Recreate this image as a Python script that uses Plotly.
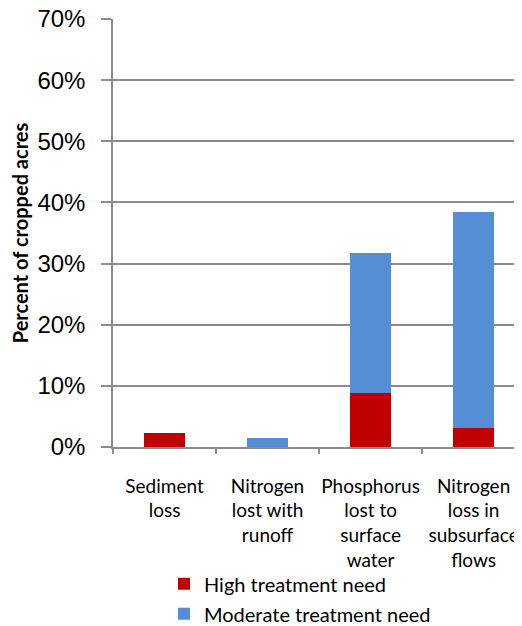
import plotly.graph_objects as go

categories = ["Sediment<br>loss", "Nitrogen<br>lost with<br>runoff",
              "Phosphorus<br>lost to<br>surface<br>water",
              "Nitrogen<br>loss in<br>subsurface<br>flows"]
high_need = [0.023, 0.0, 0.088, 0.031]
moderate_need = [0.0, 0.015, 0.229, 0.353]
y_ticks = [0, 0.1, 0.2, 0.3, 0.4, 0.5, 0.6, 0.7]

RED = "#C00000"
BLUE = "#558ED5"
GRID = "#8C8C8C"

# the page body adds an 8px margin, so the figure is 8px smaller each way
W, H = 514, 618
L, T, B = 105, 11, 179
PW = W - L
PH = H - T - B

fig = go.Figure()
fig.add_trace(go.Bar(x=categories, y=high_need, name="High treatment need",
                     marker=dict(color=RED, line=dict(width=0)), width=0.4,
                     legendgroup="a"))
fig.add_trace(go.Bar(x=categories, y=moderate_need, name="Moderate treatment need",
                     marker=dict(color=BLUE, line=dict(width=0)), width=0.4,
                     legendgroup="b"))

fig.update_layout(
    barmode="stack",
    width=W, height=H,
    margin=dict(l=L, r=0, t=T, b=B, pad=0),
    paper_bgcolor="white", plot_bgcolor="white",
    font=dict(family="Lato, Liberation Sans, sans-serif", color="#000000"),
    legend=dict(
        orientation="v", xref="paper", x=51 / PW, xanchor="left",
        yref="container", y=0.0999, yanchor="top",
        font=dict(size=20, family="Lato"),
        traceorder="grouped", tracegroupgap=1,
        bgcolor="rgba(0,0,0,0)",
    ),
    xaxis=dict(
        type="category", range=[-0.5, 3.47], automargin=False,
        showline=True, linecolor=GRID, linewidth=1.5,
        showgrid=False, tickson="boundaries", ticks="outside",
        ticklen=5, tickcolor=GRID, tickwidth=1.5, tickangle=0,
        tickfont=dict(size=19, family="Lato"),
        ticklabelstandoff=21,
    ),
    yaxis=dict(
        range=[0, 0.7], tickvals=y_ticks, tickformat=".0%", automargin=False,
        showline=True, linecolor=GRID, linewidth=1.5,
        showgrid=True, gridcolor=GRID, gridwidth=1.5,
        ticks="outside", ticklen=10, tickcolor=GRID, tickwidth=1.5,
        tickfont=dict(size=24, family="Liberation Sans"),
        ticklabelstandoff=11, ticklabeloverflow="allow",
        zeroline=False,
        title=dict(text="<b>Percent of cropped acres</b>",
                   font=dict(size=20, family="Lato"), standoff=6),
    ),
)

fig.write_html("out.html")
